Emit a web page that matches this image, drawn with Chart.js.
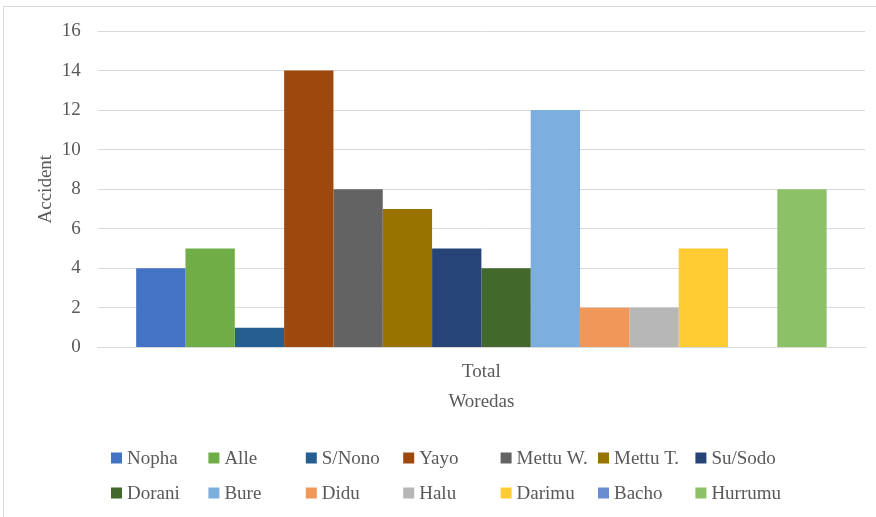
<!DOCTYPE html>
<html>
<head>
<meta charset="utf-8">
<script src="https://cdn.jsdelivr.net/npm/chart.js@4/dist/chart.umd.min.js"></script>
<style>
  html, body { margin: 0; padding: 0; background: #ffffff; }
  #wrap { width: 876px; height: 517px; position: relative; }
</style>
</head>
<body>
<div id="wrap"><canvas id="chart" width="876" height="517"></canvas></div>
<script>
// Accidents per woreda (single "Total" category)
const categories = ['Total'];
const woredas = ['Nopha', 'Alle', 'S/Nono', 'Yayo', 'Mettu W.', 'Mettu T.', 'Su/Sodo',
                 'Dorani', 'Bure', 'Didu', 'Halu', 'Darimu', 'Bacho', 'Hurrumu'];
const accidents = [4, 5, 1, 14, 8, 7, 5, 4, 12, 2, 2, 5, 0, 8];
const barColors = ['#4472C4', '#70AD47', '#255E91', '#9E480E', '#636363', '#997300', '#264478',
                   '#43682B', '#7CAFDD', '#F1975A', '#B7B7B7', '#FFCD33', '#698ED0', '#8CC168'];
const yTicks = [0, 2, 4, 6, 8, 10, 12, 14, 16];

const FONT = "'Liberation Serif', 'Times New Roman', serif";
const TEXT = '#595959';
const FS = 19;

// Legend drawn on a fixed 7-column grid below the plot
const gridLegend = {
  id: 'gridLegend',
  afterDraw(chart) {
    const ctx = chart.ctx;
    const cols = 7, colW = 97.4, x0 = 111, rowY = [458, 493], box = 11;
    ctx.save();
    ctx.font = FS + 'px ' + FONT;
    ctx.textBaseline = 'middle';
    ctx.textAlign = 'left';
    chart.data.datasets.forEach((ds, i) => {
      const c = i % cols, r = Math.floor(i / cols);
      const x = x0 + c * colW, y = rowY[r];
      ctx.fillStyle = ds.backgroundColor;
      ctx.fillRect(x, y - box / 2, box, box);
      ctx.fillStyle = TEXT;
      ctx.fillText(ds.label, x + box + 5, y + 1);
    });
    ctx.restore();
  }
};

// Thin frame around the figure
const frame = {
  id: 'frame',
  beforeDraw(chart) {
    const ctx = chart.ctx;
    ctx.save();
    ctx.strokeStyle = '#d9d9d9';
    ctx.lineWidth = 1;
    ctx.beginPath();
    ctx.moveTo(3.5, 517);
    ctx.lineTo(3.5, 6.5);
    ctx.lineTo(876, 6.5);
    ctx.stroke();
    ctx.restore();
  }
};

new Chart(document.getElementById('chart'), {
  type: 'bar',
  data: {
    labels: categories,
    datasets: woredas.map((name, i) => ({
      label: name,
      data: [accidents[i]],
      backgroundColor: barColors[i],
      borderWidth: 0
    }))
  },
  options: {
    responsive: false,
    animation: false,
    layout: { padding: { left: 35, right: 11, top: 31, bottom: 104 } },
    datasets: { bar: { categoryPercentage: 0.9, barPercentage: 1.0 } },
    plugins: {
      legend: { display: false },
      tooltip: { enabled: false }
    },
    scales: {
      x: {
        grid: { display: false, drawTicks: false },
        border: { color: '#d9d9d9', width: 1 },
        ticks: { color: TEXT, font: { family: FONT, size: FS }, padding: 13 },
        title: { display: true, text: 'Woredas', color: TEXT, font: { family: FONT, size: FS }, padding: { top: -6, bottom: 0 } }
      },
      y: {
        min: 0, max: 16,
        afterBuildTicks(axis) { axis.ticks = yTicks.map(v => ({ value: v })); },
        grid: { color: '#d9d9d9', lineWidth: 1, drawTicks: false },
        border: { display: false },
        ticks: { color: TEXT, font: { family: FONT, size: FS }, padding: 17 },
        title: { display: true, text: 'Accident', color: TEXT, font: { family: FONT, size: FS }, padding: { top: 0, bottom: -13 } }
      }
    }
  },
  plugins: [frame, gridLegend]
});
</script>
</body>
</html>
